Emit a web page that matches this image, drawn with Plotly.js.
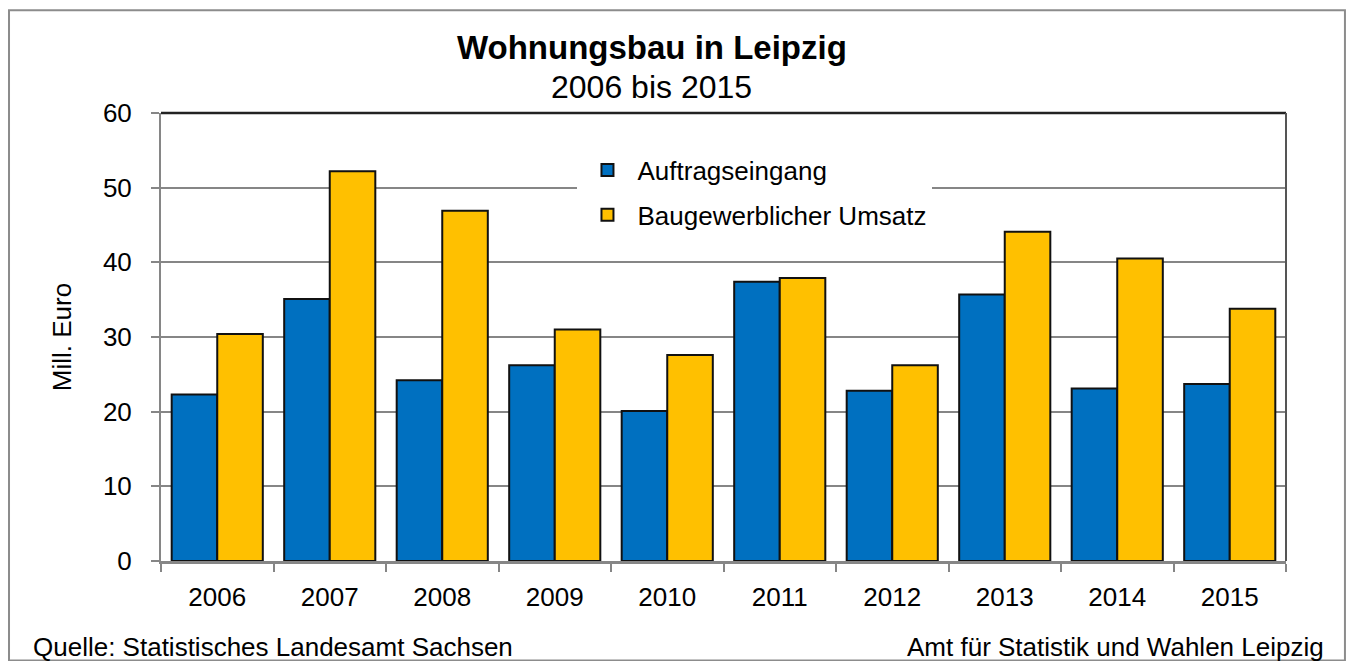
<!DOCTYPE html>
<html>
<head>
<meta charset="utf-8">
<script src="https://cdn.plot.ly/plotly-3.0.1.min.js"></script>
<style>
  html, body { margin: 0; padding: 0; background: #ffffff; }
  #chart { width: 1348px; height: 661px; }
</style>
</head>
<body>
<div id="chart"></div>
<script>
// ---- Data ----
const years = ["2006", "2007", "2008", "2009", "2010", "2011", "2012", "2013", "2014", "2015"];
const auftragseingang = [22.3, 35.1, 24.2, 26.2, 20.1, 37.4, 22.8, 35.7, 23.1, 23.7];
const umsatz = [30.4, 52.2, 46.9, 31.0, 27.6, 37.9, 26.2, 44.1, 40.5, 33.8];
const seriesNames = ["Auftragseingang", "Baugewerblicher Umsatz"];
const titleText = "Wohnungsbau in Leipzig";
const subtitleText = "2006 bis 2015";
const yTitle = "Mill. Euro";
const sourceLeft = "Quelle: Statistisches Landesamt Sachsen";
const sourceRight = "Amt für Statistik und Wahlen Leipzig";

const FONT = "Arial, 'Liberation Sans', sans-serif";
const GRID = "#868686";

const traces = [
  {
    type: "bar", name: seriesNames[0], x: years, y: auftragseingang,
    legendgroup: "a",
    marker: { color: "#0070C0", line: { color: "#111111", width: 2 } },
    hoverinfo: "x+y+name"
  },
  {
    type: "bar", name: seriesNames[1], x: years, y: umsatz,
    legendgroup: "b",
    marker: { color: "#FFC000", line: { color: "#111111", width: 2 } },
    hoverinfo: "x+y+name"
  }
];

const layout = {
  width: 1348, height: 661,
  margin: { l: 161, r: 62, t: 113, b: 100, pad: 0 },
  paper_bgcolor: "#ffffff",
  plot_bgcolor: "#ffffff",
  font: { family: FONT, size: 26, color: "#000000" },
  barmode: "group",
  bargap: 0.19,
  bargroupgap: 0,
  showlegend: true,
  legend: {
    x: 0.3702, xanchor: "left",
    y: 0.925, yanchor: "top",
    bgcolor: "#ffffff",
    borderwidth: 0,
    itemwidth: 50,
    font: { family: FONT, size: 26, color: "#000000" },
    tracegroupgap: 8,
    itemclick: false, itemdoubleclick: false
  },
  xaxis: {
    type: "category",
    showline: true, linecolor: GRID, linewidth: 3,
    ticks: "outside", tickson: "boundaries", ticklen: 8, tickwidth: 2, tickcolor: GRID,
    ticklabelstandoff: 11,
    tickfont: { family: FONT, size: 26, color: "#000000" },
    showgrid: false, zeroline: false, fixedrange: true
  },
  yaxis: {
    range: [0, 60], dtick: 10, tick0: 0,
    showline: true, linecolor: GRID, linewidth: 2,
    ticks: "outside", ticklen: 8, tickwidth: 2, tickcolor: GRID,
    ticklabelstandoff: 14,
    tickfont: { family: FONT, size: 26, color: "#000000" },
    showgrid: true, gridcolor: GRID, gridwidth: 2,
    zeroline: false, fixedrange: true,
    title: { text: yTitle, font: { family: FONT, size: 26, color: "#000000" }, standoff: 24 }
  },
  shapes: [
    // top and right borders of the plot area
    { type: "line", xref: "paper", yref: "paper", x0: 0, x1: 1, y0: 1, y1: 1,
      line: { color: "#222222", width: 2.5 }, layer: "above" },
    { type: "line", xref: "paper", yref: "paper", x0: 1, x1: 1, y0: 0, y1: 1,
      line: { color: "#555555", width: 2 }, layer: "above" },
    // outer frame of the chart
    { type: "rect", xref: "paper", yref: "paper",
      x0: -0.1351, x1: 1.0524, y0: -0.2222, y1: 1.2293,
      line: { color: "#8c8c8c", width: 2 }, fillcolor: "rgba(0,0,0,0)", layer: "above" }
  ],
  annotations: [
    { text: "<b>" + titleText + "</b>", xref: "paper", yref: "paper", x: 0.4364, y: 1.147,
      xanchor: "center", yanchor: "middle", showarrow: false,
      font: { family: FONT, size: 33, color: "#000000" } },
    { text: subtitleText, xref: "paper", yref: "paper", x: 0.4364, y: 1.058,
      xanchor: "center", yanchor: "middle", showarrow: false,
      font: { family: FONT, size: 32, color: "#000000" } },
    { text: sourceLeft, xref: "paper", yref: "paper", x: -0.1155, y: -0.192,
      xanchor: "left", yanchor: "middle", showarrow: false,
      font: { family: FONT, size: 26, color: "#000000" } },
    { text: sourceRight, xref: "paper", yref: "paper", x: 1.0355, y: -0.192,
      xanchor: "right", yanchor: "middle", showarrow: false,
      font: { family: FONT, size: 26, color: "#000000" } }
  ]
};

Plotly.newPlot("chart", traces, layout, { displayModeBar: false, staticPlot: false, responsive: false });
</script>
</body>
</html>
